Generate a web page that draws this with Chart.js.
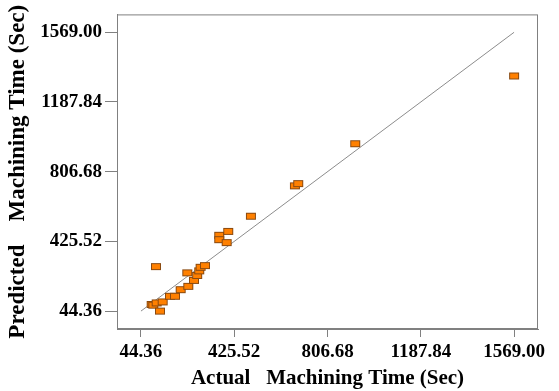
<!DOCTYPE html>
<html>
<head>
<meta charset="utf-8">
<script src="https://cdn.jsdelivr.net/npm/chart.js@4.4.0/dist/chart.umd.min.js"></script>
<style>
  html, body { margin: 0; padding: 0; background: #fff; }
  #wrap { width: 559px; height: 391px; }
</style>
</head>
<body>
<div id="wrap"><canvas id="chart" width="559" height="391"></canvas></div>
<script>
// values (seconds)
const actualTime = [88, 94.6, 108.5, 122, 133, 162.8, 183.2, 105.6, 206.5, 237.6, 233.5, 260.9, 274, 282.5, 288, 305.8,
  364, 364, 394.4, 401, 493.7, 673.4, 686.9, 919.8, 1569];
const predictedTime = [80.6, 76.8, 89.2, 44.4, 94.6, 125.4, 125.4, 287.6, 161.7, 179.5, 253.6, 212, 239, 264.4, 284, 293,
  459, 435, 419, 480, 563, 729.2, 741.6, 959.6, 1330];
const tickValues = [44.36, 425.52, 806.68, 1187.84, 1569.00];

const axisMin = -53.6;
const axisMax = 1666.8;

// small orange rectangle marker
const marker = document.createElement("canvas");
marker.width = 12;
marker.height = 9;
const mctx = marker.getContext("2d");
mctx.fillStyle = "#ff8000";
mctx.fillRect(1, 1, 10, 7);
mctx.strokeStyle = "#8a4a10";
mctx.lineWidth = 1;
mctx.strokeRect(1.5, 1.5, 9, 6);

const serif = "'Liberation Serif', 'Times New Roman', serif";
const tickFont = { family: serif, size: 19, weight: "bold" };

const frame = {
  id: "frame",
  afterDatasetsDraw(chart) {
    const a = chart.chartArea;
    const c = chart.ctx;
    c.save();
    c.strokeStyle = "#808080";
    c.lineWidth = 1;
    c.strokeRect(a.left + 0.5, a.top + 0.5, a.right - a.left - 1, a.bottom - a.top - 1);
    c.restore();
  }
};

new Chart(document.getElementById("chart"), {
  type: "scatter",
  data: {
    datasets: [
      {
        data: actualTime.map((v, i) => ({ x: v, y: predictedTime[i] })),
        pointStyle: marker,
        pointRadius: 5,
        order: 0
      },
      {
        type: "line",
        data: [{ x: tickValues[0], y: tickValues[0] }, { x: tickValues[4], y: tickValues[4] }],
        borderColor: "#8c8c8c",
        borderWidth: 1,
        pointRadius: 0,
        order: 1
      }
    ]
  },
  options: {
    responsive: false,
    animation: false,
    layout: { padding: { top: 10, right: 21, left: 0, bottom: 0 } },
    plugins: { legend: { display: false }, tooltip: { enabled: false } },
    scales: {
      x: {
        type: "linear",
        min: axisMin,
        max: axisMax,
        afterBuildTicks: s => { s.ticks = tickValues.map(v => ({ value: v })); },
        afterFit: s => { s.height = 62; },
        ticks: {
          font: tickFont,
          color: "#000",
          padding: 4,
          maxRotation: 0,
          callback: v => Number(v).toFixed(2)
        },
        grid: { drawOnChartArea: false, tickLength: 8, color: "#808080" },
        border: { color: "#808080" },
        title: {
          display: true,
          text: "Actual   Machining Time (Sec)",
          font: { family: serif, size: 21, weight: "bold" },
          color: "#000",
          padding: { top: 0, bottom: 0 }
        }
      },
      y: {
        type: "linear",
        min: axisMin,
        max: axisMax,
        afterBuildTicks: s => { s.ticks = tickValues.map(v => ({ value: v })); },
        afterFit: s => { s.width = 117; },
        ticks: {
          font: tickFont,
          color: "#000",
          padding: 3,
          callback: v => Number(v).toFixed(2)
        },
        grid: { drawOnChartArea: false, tickLength: 12, color: "#808080" },
        border: { color: "#808080" },
        title: {
          display: true,
          text: "Predicted    Machining Time (Sec)",
          font: { family: serif, size: 23, weight: "bold" },
          color: "#000",
          padding: { top: 4, bottom: 0 }
        }
      }
    }
  },
  plugins: [frame]
});
</script>
</body>
</html>
